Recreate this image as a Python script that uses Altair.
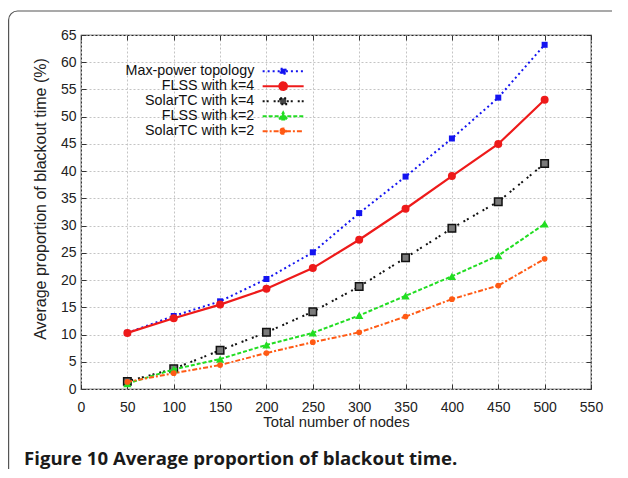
import altair as alt
import pandas as pd

# ---- data ----
nodes = [50, 100, 150, 200, 250, 300, 350, 400, 450, 500]
series_names = ["Max-power topology", "FLSS with k=4", "SolarTC with k=4",
                "FLSS with k=2", "SolarTC with k=2"]
max_power = [10.3, 13.4, 16.1, 20.2, 25.1, 32.3, 39.0, 46.0, 53.5, 63.2]
flss_k4 = [10.3, 13.0, 15.5, 18.4, 22.2, 27.4, 33.1, 39.1, 45.0, 53.1]
solartc_k4 = [1.4, 3.7, 7.1, 10.4, 14.2, 18.8, 24.1, 29.5, 34.4, 41.4]
flss_k2 = [1.0, 3.6, 5.5, 8.1, 10.3, 13.5, 17.1, 20.7, 24.5, 30.3]
solartc_k2 = [1.3, 2.9, 4.4, 6.6, 8.6, 10.4, 13.3, 16.5, 19.0, 23.9]
x_ticks = [0, 50, 100, 150, 200, 250, 300, 350, 400, 450, 500, 550]
y_ticks = [0, 5, 10, 15, 20, 25, 30, 35, 40, 45, 50, 55, 60, 65]
caption = "Figure 10 Average proportion of blackout time."

all_values = [max_power, flss_k4, solartc_k4, flss_k2, solartc_k2]
rows = []
for name, vals in zip(series_names, all_values):
    for n, v in zip(nodes, vals):
        rows.append({"series": name, "nodes": n, "value": v})
df = pd.DataFrame(rows)

# ---- styles ----
colors = ["#1414f0", "#ee1a1a", "#111111", "#22dd22", "#ff5a14"]
fills = ["#1414f0", "#ee1a1a", "#7a7a7a", "#22dd22", "#ff5a14"]
leg_fills = ["#1414f0", "#ee1a1a", "#444444", "#22dd22", "#ff5a14"]
dashes = [[2, 3], [1, 0], [2, 2, 2, 5], [4, 2], [5, 2, 2, 2]]
widths = [2, 2.2, 2, 2, 2]
shapes = ["square", "circle", "square", "triangle-up", "circle"]
sizes = [36, 64, 56, 70, 33]
mstroke = [0, 0, 1.5, 0, 0]

W, H = 510, 354
FONT = "Liberation Sans"

def seg(h):
    return f"M-3.73,0H-{h}M{h},0H3.73"

def circ(r):
    return f"M-{r},0A{r},{r} 0 1,0 {r},0A{r},{r} 0 1,0 -{r},0Z"

legend_paths = [
    seg(0.5) + "M-0.45,-0.45H0.45V0.45H-0.45Z",
    seg(0.7) + circ(0.7),
    seg(0.65) + "M-0.55,-0.55H0.55V0.55H-0.55Z",
    seg(0.75) + "M-0.7,0.6L0,-0.7L0.7,0.6Z",
    seg(0.5) + circ(0.48),
]

xscale = alt.Scale(domain=[0, 550], nice=False, zero=False)
yscale = alt.Scale(domain=[0, 65], nice=False, zero=False)

main_x_axis = alt.Axis(values=x_ticks, ticks=False, tickSize=0, domain=False,
                       grid=True, gridColor="#c4c4c4", gridDash=[2, 2], gridWidth=1,
                       labelFont=FONT, labelFontSize=14, labelColor="#222",
                       labelPadding=11.5, labelFlush=False, labelOverlap=False,
                       title="Total number of nodes", titleFont=FONT, titleFontSize=14.8,
                       titleFontWeight="normal", titleColor="#222",
                       titleY=37.5, titleBaseline="alphabetic")
main_y_axis = alt.Axis(values=y_ticks, ticks=False, tickSize=0, domain=False,
                       grid=True, gridColor="#c4c4c4", gridDash=[2, 2], gridWidth=1,
                       labelFont=FONT, labelFontSize=14, labelColor="#222",
                       labelPadding=5, labelFlush=False, labelOverlap=False,
                       title="Average proportion of blackout time (%)", titleFont=FONT,
                       titleFontSize=16, titleFontWeight="normal", titleColor="#222",
                       titleX=-41, titleY=163.5, titleBaseline="middle", titleAngle=270)

base = alt.Chart(df)
layers = []

# series lines and markers
for i, name in enumerate(series_names):
    sub = base.transform_filter(alt.datum.series == name)
    xa = main_x_axis if i == 0 else None
    ya = main_y_axis if i == 0 else None
    line_kwargs = dict(color=colors[i], strokeWidth=widths[i])
    if i != 1:
        line_kwargs["strokeDash"] = dashes[i]
    layers.append(sub.mark_line(**line_kwargs).encode(
        x=alt.X("nodes:Q", scale=xscale, axis=xa),
        y=alt.Y("value:Q", scale=yscale, axis=ya),
    ))
    pt_kwargs = dict(shape=shapes[i], size=sizes[i], filled=True, fill=fills[i],
                     opacity=1)
    if mstroke[i] > 0:
        pt_kwargs.update(stroke=colors[i], strokeWidth=mstroke[i])
    layers.append(sub.mark_point(**pt_kwargs).encode(
        x=alt.X("nodes:Q", scale=xscale, axis=None),
        y=alt.Y("value:Q", scale=yscale, axis=None),
    ))

# inward tick marks on all four sides
tick_common = dict(labels=False, domain=False, grid=False, ticks=True, tickSize=5,
                   tickColor="#333", tickWidth=1, title=None)
first = base.transform_filter(alt.datum.series == series_names[0])
layers.append(first.mark_line(opacity=0).encode(
    x=alt.X("nodes:Q", scale=xscale,
            axis=alt.Axis(orient="top", offset=-H, values=x_ticks, **tick_common)),
    y=alt.Y("value:Q", scale=yscale,
            axis=alt.Axis(orient="right", offset=-W, values=y_ticks, **tick_common)),
))
layers.append(first.mark_line(opacity=0).encode(
    x=alt.X("nodes:Q", scale=xscale,
            axis=alt.Axis(orient="bottom", offset=-H, values=x_ticks, **tick_common)),
    y=alt.Y("value:Q", scale=yscale,
            axis=alt.Axis(orient="left", offset=-W, values=y_ticks, **tick_common)),
))

# legend (library legend, labels placed left of the symbols)
leg = dict(orient="none", legendX=195, legendY=29, title=None, padding=0,
           labelFont=FONT, labelFontSize=14.3, labelColor="#111", labelAlign="right",
           labelOffset={"expr": "-36"}, symbolSize=121, symbolStrokeWidth=2,
           symbolOpacity=1, rowPadding={"expr": "-1.2"}, labelLimit=300)
layers.append(base.transform_filter("datum.value < -100").mark_point(
    filled=True, opacity=1, strokeWidth=2).encode(
    x=alt.X("nodes:Q", scale=xscale, axis=None),
    y=alt.Y("value:Q", scale=yscale, axis=None),
    fill=alt.Fill("series:N", scale=alt.Scale(domain=series_names, range=leg_fills),
                  legend=alt.Legend(**leg)),
    stroke=alt.Stroke("series:N", scale=alt.Scale(domain=series_names, range=colors),
                      legend=alt.Legend(**leg)),
    shape=alt.Shape("series:N", scale=alt.Scale(domain=series_names, range=legend_paths),
                    legend=alt.Legend(**leg)),
    strokeDash=alt.StrokeDash("series:N",
                              scale=alt.Scale(domain=series_names, range=dashes),
                              legend=alt.Legend(**leg)),
))

# figure frame and caption
one = alt.Data(values=[{}])
layers.append(alt.Chart(one).mark_rect(fill="white", fillOpacity=0, stroke="#555",
                                       strokeWidth=1.2, cornerRadius=9).encode(
    x=alt.value(-72.4), x2=alt.value(700), y=alt.value(-24), y2=alt.value(700)))
layers.append(alt.Chart(one).mark_text(text=caption, font="Open Sans", fontSize=18.6,
                                       fontWeight="bold", align="left",
                                       baseline="alphabetic", color="#1a1a1a").encode(
    x=alt.value(-57), y=alt.value(430)))

chart = alt.layer(*layers).resolve_axis(x="independent", y="independent").properties(
    width=W, height=H,
    padding={"left": 73, "top": 27, "right": 21, "bottom": 80},
    autosize=alt.AutoSizeParams(type="none"),
).configure_view(stroke="#222", strokeWidth=1.2)

chart.save("out.html", embed_options={"renderer": "svg", "actions": False})
